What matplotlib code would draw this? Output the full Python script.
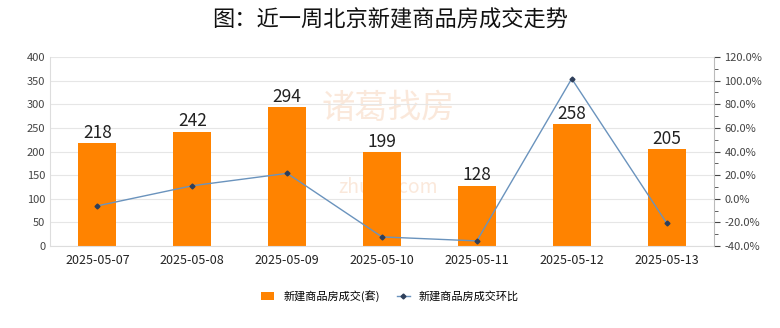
import matplotlib
matplotlib.use('Agg')
import matplotlib.pyplot as plt
from matplotlib.ticker import MultipleLocator, FuncFormatter

plt.rcParams['font.family'] = ['Noto Sans CJK SC', 'DejaVu Sans']

dates = ['2025-05-07', '2025-05-08', '2025-05-09', '2025-05-10',
         '2025-05-11', '2025-05-12', '2025-05-13']
deals = [218, 242, 294, 199, 128, 258, 205]
ratio = [-6.0, 11.0, 21.5, -32.3, -35.7, 101.6, -20.5]

fig = plt.figure(figsize=(7.8, 3.28), dpi=100)
ax = fig.add_axes([50 / 780, 1 - 246 / 328, (714 - 50) / 780, (246 - 57) / 328])
ax2 = ax.twinx()

# faint watermark, drawn behind the bars
ax.text(0.51, 0.73, '诸葛找房', transform=ax.transAxes, fontsize=24, color='#f7d3b8',
        alpha=0.5, ha='center', va='center', zorder=0.5)
ax.text(0.51, 0.31, 'zhuge.com', transform=ax.transAxes, fontsize=14, color='#f7d3b8',
        alpha=0.5, ha='center', va='center', zorder=0.5)

x = range(len(dates))
bars = ax.bar(x, deals, width=0.4, color='#FF8300', zorder=2, label='新建商品房成交(套)')
for xi, v in zip(x, deals):
    ax.text(xi, v + 3, str(v), ha='center', va='bottom', fontsize=12.5, color='#222222', zorder=4)

ax.set_ylim(0, 400)
ax.yaxis.set_major_locator(MultipleLocator(50))
ax.set_xlim(-0.5, len(dates) - 0.5)
ax.set_xticks(list(x))
ax.set_xticklabels(dates, fontsize=9)
ax.tick_params(axis='y', labelsize=8, length=0, colors='#444444')
ax.tick_params(axis='x', length=0, pad=6, colors='#222222')
ax.grid(axis='y', color='#e6e6e6', linewidth=0.8, zorder=0)
for s in ['top', 'right']:
    ax.spines[s].set_visible(False)
ax.spines['left'].set_color('#dddddd')
ax.spines['bottom'].set_color('#dddddd')

line, = ax2.plot(list(x), ratio, color='#6a93bd', linewidth=1, marker='D', markersize=2.5,
                 markerfacecolor='#2f3f5a', markeredgecolor='#2f3f5a', zorder=3,
                 label='新建商品房成交环比')
ax2.set_ylim(-40, 120)
ax2.yaxis.set_major_locator(MultipleLocator(20))
ax2.yaxis.set_minor_locator(MultipleLocator(10))
ax2.yaxis.set_major_formatter(FuncFormatter(lambda v, p: f'{v:.1f}%'))
ax2.tick_params(axis='y', which='major', labelsize=8, length=4, colors='#444444', direction='out')
ax2.tick_params(axis='y', which='minor', length=3, color='#444444', direction='out')
for s in ['top', 'left', 'bottom']:
    ax2.spines[s].set_visible(False)
ax2.spines['right'].set_color('#bbbbbb')

fig.suptitle('图：近一周北京新建商品房成交走势', y=0.975, fontsize=16, color='#111111')

fig.legend(handles=[bars, line], loc='center', bbox_to_anchor=(0.5, 1 - 296 / 328),
           ncol=2, frameon=False, fontsize=8, handlelength=1.2, columnspacing=1.5)

fig.savefig('out.png', dpi=100)
